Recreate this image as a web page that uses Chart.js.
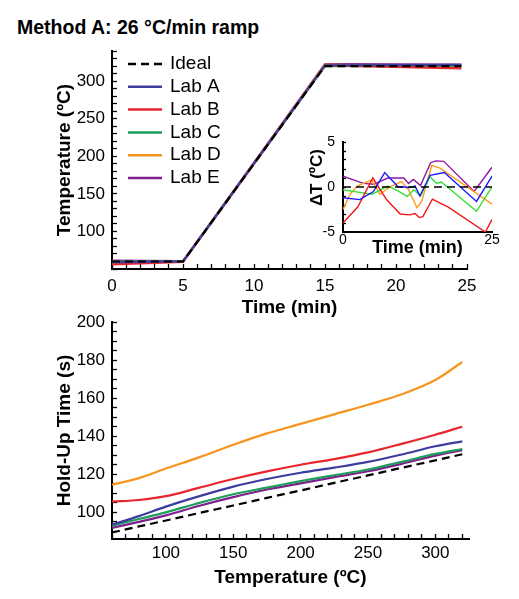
<!DOCTYPE html>
<html>
<head>
<meta charset="utf-8">
<script src="https://cdn.jsdelivr.net/npm/chart.js@4.4.0/dist/chart.umd.min.js"></script>
<style>
  body { margin: 0; background: #fff; width: 519px; height: 599px; position: relative; overflow: hidden;
         font-family: "Liberation Sans", Arial, sans-serif; }
  #title { position: absolute; left: 17px; top: 17px; font-size: 19.5px; line-height: 20px; font-weight: bold; white-space: nowrap; }
  canvas { position: absolute; }
</style>
</head>
<body>
<div id="title">Method A: 26 °C/min ramp</div>
<canvas id="ramp" width="519" height="280" style="left:0;top:41px"></canvas>
<canvas id="inset" width="229" height="132" style="left:290px;top:128px"></canvas>
<canvas id="holdup" width="519" height="289" style="left:0;top:310px"></canvas>
<script>
// ---- temperature program (top panel) ----
const rampTimes = [0, 5, 15, 24.6];
const rampIdeal = [60, 60, 320, 320];
const rampLabA = [58.8, 60.2, 321, 321.5];
const rampLabB = [56, 59.5, 321, 317];
const rampLabC = [59.7, 60, 320, 320.5];
const rampLabD = [57.5, 60, 322, 318.5];
const rampLabE = [61.2, 60.5, 322.5, 322];
const rampTimeLabels = [0, 5, 10, 15, 20, 25];
const rampTempLabels = [100, 150, 200, 250, 300];

// ---- deviation from ideal (inset), [time, dT] ----
const devIdeal = [[0, 0], [25, 0]];
const devLabA = [[0,-1.2],[2.8,-1.4],[5.1,-0.5],[7.0,1.6],[9.2,0.05],[11.2,-0.05],[12.1,0.1],[12.9,-1.0],[14.6,1.3],[17.0,1.6],[22.4,-1.6],[25,1.2]];
const devLabB = [[0,-4.0],[2.5,-2.2],[5.0,1.0],[7.3,-1.4],[9.6,-3.0],[11.2,-3.1],[12.1,-2.95],[12.8,-3.4],[13.4,-3.3],[15.0,-1.35],[16.3,-1.8],[17.6,-2.2],[23.9,-5.0],[25,-3.6]];
const devLabC = [[0,-0.3],[2.8,-0.6],[4.9,-0.8],[7.5,0.1],[9.0,-0.35],[10.8,-1.05],[11.9,-0.3],[13.0,-1.0],[14.6,1.15],[15.7,0.4],[16.5,0.55],[22.4,-2.7],[25,0]];
const devLabD = [[0,-2.5],[1.2,-0.8],[2.4,0.1],[4.8,0.8],[6.2,-0.8],[7.8,0],[9.8,0.6],[11.0,-0.3],[12.4,-2.3],[13.2,-1.6],[14.9,2.4],[16.3,2.1],[25,-1.9]];
const devLabE = [[0,1.2],[3.4,0.4],[5.2,0.3],[7.5,1.0],[10.2,1.0],[11.0,0.4],[11.8,0.85],[13.0,0.15],[14.7,2.7],[15.6,2.9],[16.9,2.85],[22.0,-0.5],[25,2.2]];
const devTimeLabels = [0, 25];
const devLabels = [-5, 0, 5];

// ---- hold-up time vs temperature (bottom panel) ----
const holdTemps = [60, 80, 100, 125, 150, 175, 200, 225, 250, 275, 300, 320];
const holdIdeal = [89.4, 92.6, 95.7, 99.7, 103.6, 107.6, 111.5, 115.5, 119.4, 123.4, 127.3, 130.5];
const holdLabA = [93.5, 98, 103, 108.5, 113.5, 117.5, 120.8, 123.5, 126.5, 130.4, 134.7, 137.3];
const holdLabB = [105.6, 106.5, 108.5, 113, 117.5, 121.5, 125, 128, 131.5, 136, 140.8, 145];
const holdLabC = [93, 96.5, 100, 105, 109.5, 113, 116.4, 119.5, 122.5, 126.5, 130.7, 133.3];
const holdLabD = [114.5, 118, 123, 129, 135.5, 141.5, 146.5, 151.5, 156.5, 162, 169.5, 179];
const holdLabE = [91.8, 95, 98.4, 103.5, 108, 112, 115.2, 118.5, 121.6, 125.5, 129.8, 132.7];
const holdTempLabels = [100, 150, 200, 250, 300];
const holdTimeLabels = [100, 120, 140, 160, 180, 200];

const labNames = ['Lab A', 'Lab B', 'Lab C', 'Lab D', 'Lab E'];
const labColors = ['#3d3da0', '#e8262e', '#1e9e5a', '#f7941d', '#7f1f8f'];
const insetColors = ['#1a1aff', '#f01818', '#33e033', '#ff9a1a', '#8e1a9e'];

const FONT = '"Liberation Sans", Arial, sans-serif';
Chart.defaults.font.family = FONT;
Chart.defaults.color = '#000';
Chart.defaults.animation = false;

function range(a, b, step) {
  const out = [];
  for (let v = a; v <= b + 1e-9; v += step) out.push(+v.toFixed(3));
  return out;
}

// linear axis with minor ticks pointing into the plot, labels only at the given values
function axis(opts) {
  return {
    type: 'linear',
    position: opts.position,
    min: opts.min,
    max: opts.max,
    afterBuildTicks: (s) => { s.ticks = opts.ticks.map((v) => ({ value: v })); },
    afterFit: (s) => {
      if (opts.position === 'left') s.width = opts.size; else s.height = opts.size;
      // plot area is pinned by layout.padding, not by label overhang
      s.paddingTop = s.paddingBottom = s.paddingLeft = s.paddingRight = 0;
    },
    ticks: {
      autoSkip: false,
      maxRotation: 0,
      padding: opts.pad,
      font: { size: opts.fontSize || 17 },
      callback: (v) => (opts.labels.includes(v) ? String(v) : ''),
    },
    grid: {
      display: opts.tickLen !== 0,
      drawOnChartArea: false,
      drawTicks: opts.tickLen !== 0,
      tickLength: opts.tickLen,
      tickColor: '#000',
      tickWidth: 1.3,
    },
    border: { display: true, color: '#000', width: 2 },
    title: {
      display: true,
      text: opts.title,
      font: { size: opts.titleSize || 19, weight: 'bold' },
      padding: opts.titlePad,
    },
  };
}

function toXY(xs, ys) {
  return xs.map((x, i) => ({ x: x, y: ys[i] }));
}

function pairs(list) {
  return list.map((p) => ({ x: p[0], y: p[1] }));
}

// legend drawn inside the top plot area
const innerLegend = {
  id: 'innerLegend',
  afterDatasetsDraw(chart) {
    const { ctx, chartArea } = chart;
    ctx.save();
    ctx.font = '19px ' + FONT;
    ctx.textBaseline = 'middle';
    chart.data.datasets.forEach((ds, i) => {
      const y = chartArea.top + 13 + i * 22.8;
      const x = chartArea.left + 16;
      ctx.strokeStyle = ds.borderColor;
      ctx.lineWidth = 2.5;
      ctx.setLineDash(ds.borderDash || []);
      ctx.beginPath();
      ctx.moveTo(x, y);
      ctx.lineTo(x + 34, y);
      ctx.stroke();
      ctx.fillStyle = '#000';
      ctx.fillText(ds.label, x + 42, y);
    });
    ctx.restore();
  },
};

const rampLabs = [rampLabA, rampLabB, rampLabC, rampLabD, rampLabE];
new Chart(document.getElementById('ramp'), {
  type: 'line',
  data: {
    datasets: [
      { label: 'Ideal', data: toXY(rampTimes, rampIdeal), borderColor: '#000', borderDash: [8, 5], borderWidth: 2.2, order: 0 },
    ].concat(rampLabs.map((vals, i) => ({
      label: labNames[i], data: toXY(rampTimes, vals), borderColor: labColors[i], borderWidth: 2.2, order: 1,
    }))),
  },
  options: {
    responsive: false,
    layout: { padding: { left: 0, right: 52, top: 10, bottom: 0 } },
    elements: { point: { radius: 0 }, line: { tension: 0 } },
    plugins: { legend: { display: false }, tooltip: { enabled: false } },
    scales: {
      x: axis({ position: 'bottom', min: 0, max: 25, ticks: range(0, 25, 1), labels: rampTimeLabels,
        size: 52, pad: 12.5, tickLen: -5, title: 'Time (min)', titlePad: { top: 0, bottom: 1.6 } }),
      y: axis({ position: 'left', min: 50, max: 340, ticks: range(50, 340, 10), labels: rampTempLabels,
        size: 112, pad: 12, tickLen: -5, title: 'Temperature (ºC)', titlePad: { top: 53.6, bottom: 0 } }),
    },
  },
  plugins: [innerLegend],
});

const devLabs = [devLabA, devLabB, devLabC, devLabD, devLabE];
new Chart(document.getElementById('inset'), {
  type: 'line',
  data: {
    datasets: [
      { label: 'Ideal', data: pairs(devIdeal), borderColor: '#000', borderDash: [8, 5], borderWidth: 1.4, order: 0 },
    ].concat(devLabs.map((vals, i) => ({
      label: labNames[i], data: pairs(vals), borderColor: insetColors[i], borderWidth: 1.4, order: 1,
    }))),
  },
  options: {
    responsive: false,
    layout: { padding: { left: 0, right: 27, top: 14, bottom: 0 } },
    elements: { point: { radius: 0 }, line: { tension: 0 } },
    plugins: { legend: { display: false }, tooltip: { enabled: false } },
    scales: {
      x: axis({ position: 'bottom', min: 0, max: 25, ticks: devTimeLabels, labels: devTimeLabels,
        size: 28, pad: 0, tickLen: 0, fontSize: 14, title: 'Time (min)', titleSize: 18, titlePad: { top: 0, bottom: 1.2 } }),
      y: axis({ position: 'left', min: -5, max: 5, ticks: range(-5, 5, 1), labels: devLabels,
        size: 53, pad: 11, tickLen: -3, fontSize: 14, title: '\u00a0\u00a0\u00a0\u00a0ΔT (ºC)', titleSize: 17, titlePad: { top: 17.3, bottom: 0 } }),
    },
  },
});

const holdLabs = [holdLabA, holdLabB, holdLabC, holdLabD, holdLabE];
new Chart(document.getElementById('holdup'), {
  type: 'line',
  data: {
    datasets: [
      { label: 'Ideal', data: toXY(holdTemps, holdIdeal), borderColor: '#000', borderDash: [8, 5], borderWidth: 2.2, order: 0 },
    ].concat(holdLabs.map((vals, i) => ({
      label: labNames[i], data: toXY(holdTemps, vals), borderColor: labColors[i], borderWidth: 2.2, order: 1,
    }))),
  },
  options: {
    responsive: false,
    layout: { padding: { left: 0, right: 50, top: 12, bottom: 0 } },
    elements: { point: { radius: 0 }, line: { tension: 0.4, cubicInterpolationMode: 'monotone' } },
    plugins: { legend: { display: false }, tooltip: { enabled: false } },
    scales: {
      x: axis({ position: 'bottom', min: 60, max: 325, ticks: range(60, 320, 10), labels: holdTempLabels,
        size: 60, pad: 8.8, tickLen: -5, title: 'Temperature (ºC)', titlePad: { top: 0, bottom: 9.6 } }),
      y: axis({ position: 'left', min: 86, max: 200, ticks: range(90, 200, 5), labels: holdTimeLabels,
        size: 112, pad: 12, tickLen: -5, title: 'Hold-Up Time (s)', titlePad: { top: 53.6, bottom: 0 } }),
    },
  },
});
</script>
</body>
</html>
